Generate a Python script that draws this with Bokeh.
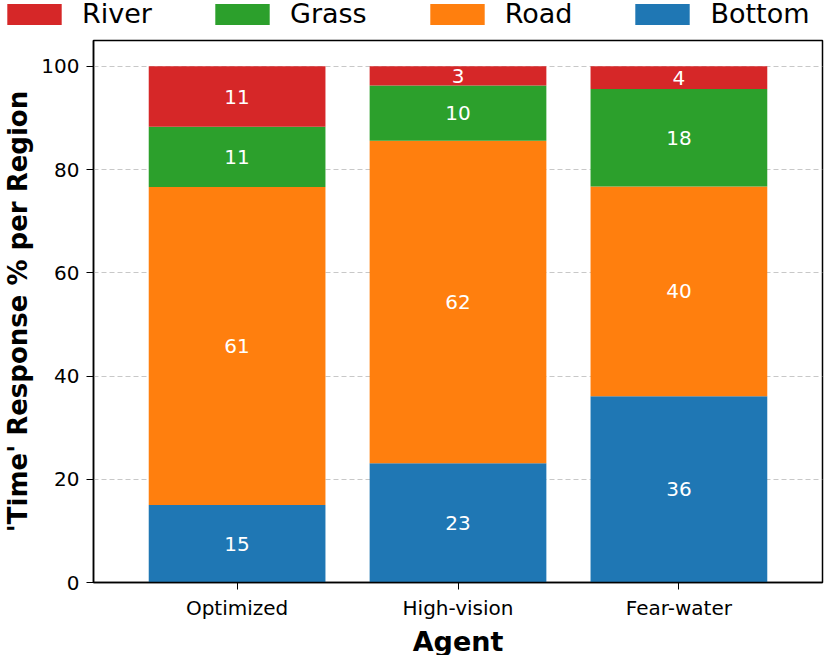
from bokeh.plotting import figure
from bokeh.models import ColumnDataSource, FactorRange, Range1d, Legend, LegendItem, FixedTicker
from bokeh.core.properties import value
from bokeh.embed import file_html
from bokeh.resources import INLINE

agents = ["Optimized", "High-vision", "Fear-water"]
regions = ["Bottom", "Road", "Grass", "River"]
bottom = [15.0, 23.1, 36.1]
road = [61.6, 62.5, 40.6]
grass = [11.7, 10.7, 18.9]
river = [11.7, 3.7, 4.4]
colors = ["#1f77b4", "#ff7f0e", "#2ca02c", "#d62728"]
y_ticks = [0, 20, 40, 60, 80, 100]

FONT = "DejaVu Sans"

source = ColumnDataSource(dict(agent=agents, Bottom=bottom, Road=road, Grass=grass, River=river))

# ---- legend strip (its own copy of the stack, kept outside the visible range) ----
leg = figure(
    x_range=FactorRange(*agents), y_range=Range1d(500, 600),
    width=830, height=30, min_border=0,
    min_border_left=0, min_border_right=0, min_border_top=0, min_border_bottom=0,
    x_axis_location=None, y_axis_location=None,
    output_backend="svg", toolbar_location=None,
)
leg.grid.visible = False
leg.outline_line_color = None
lrends = leg.vbar_stack(regions, x="agent", width=0.8, color=colors, source=source, line_color=None)
items = [LegendItem(label=regions[k], renderers=[lrends[k]]) for k in [3, 2, 1, 0]]
legend = Legend(items=items, orientation="horizontal", location=(0, 1),
                glyph_width=68, glyph_height=26, label_standoff=14, spacing=56,
                label_text_font=FONT, label_text_font_size="27px", label_text_color="black",
                label_height=21, padding=0, margin=0,
                border_line_color=None, background_fill_alpha=0)
leg.add_layout(legend, "center")

# ---- main chart ----
p = figure(
    x_range=FactorRange(*agents, range_padding=0.1, range_padding_units="percent"),
    y_range=Range1d(0, 105),
    frame_width=729, frame_height=542,
    min_border_left=93, min_border_right=8, min_border_top=10, min_border_bottom=72,
    output_backend="svg", toolbar_location=None,
)

p.vbar_stack(regions, x="agent", width=0.8, color=colors, source=source, line_color=None)

series = [bottom, road, grass, river]
lx, ly, lt = [], [], []
for i, a in enumerate(agents):
    base = 0.0
    for s in series:
        v = s[i]
        lx.append(a)
        ly.append(base + v / 2)
        lt.append(str(int(v)))
        base += v
p.text(x="agent", y="y", text="t", source=ColumnDataSource(dict(agent=lx, y=ly, t=lt)),
       text_color="white", text_align="center", text_baseline="middle",
       text_font=value(FONT), text_font_size="20px")

p.xgrid.grid_line_color = None
p.ygrid.grid_line_color = "#c8c8c8"
p.ygrid.grid_line_dash = "5 3"
p.ygrid.grid_line_width = 1
p.yaxis.ticker = FixedTicker(ticks=y_ticks)

p.outline_line_color = "black"
p.outline_line_width = 1.5
p.outline_line_alpha = 1

for ax in (p.xaxis[0], p.yaxis[0]):
    ax.axis_line_color = "black"
    ax.axis_line_width = 1.5
    ax.major_tick_line_color = "black"
    ax.major_tick_line_width = 1
    ax.major_tick_out = 7
    ax.major_tick_in = 0
    ax.minor_tick_line_color = None
    ax.major_label_text_font = FONT
    ax.major_label_text_font_size = "20px"
    ax.major_label_text_color = "black"
    ax.axis_label_text_font = FONT
    ax.axis_label_text_font_style = "bold"
    ax.axis_label_text_color = "black"

p.xaxis.axis_label = "Agent"
p.xaxis.axis_label_text_font_size = "27px"
p.xaxis.axis_label_standoff = 3
p.xaxis.major_label_standoff = 6
p.yaxis.axis_label = "'Time' Response % per Region"
p.yaxis.axis_label_text_font_size = "26px"
p.yaxis.axis_label_standoff = 5
p.yaxis.major_label_standoff = 7

open("out.html", "w").write(file_html([leg, p], INLINE))
